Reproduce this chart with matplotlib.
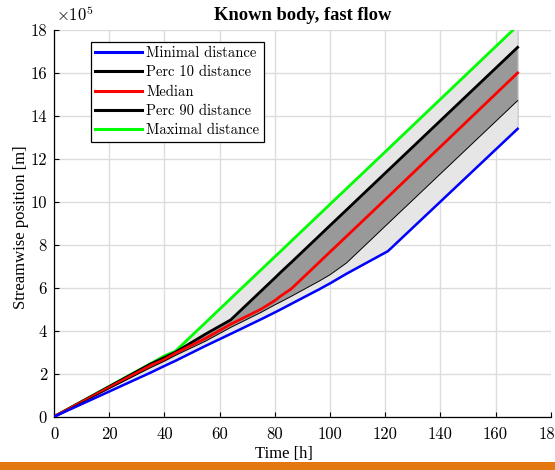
import matplotlib

matplotlib.use("Agg")
import matplotlib.pyplot as plt
from matplotlib.lines import Line2D
from matplotlib.patches import Rectangle
from matplotlib.ticker import FuncFormatter
import numpy as np

plt.rcParams["mathtext.fontset"] = "cm"
plt.rcParams["font.family"] = ["Liberation Serif", "DejaVu Serif"]

# time grid shared by all series [h]
time_h = [0, 35, 40, 44, 55, 64, 75, 80, 82, 86, 96, 100, 106, 121, 168]

# streamwise position [m]
minimal = [0, 2.05e5, 2.36e5, 2.60e5, 3.30e5, 3.85e5, 4.53e5, 4.85e5, 4.98e5,
           5.25e5, 5.92e5, 6.20e5, 6.65e5, 7.70e5, 13.39e5]
perc10 = [0, 2.45e5, 2.75e5, 3.00e5, 3.85e5, 4.50e5, 5.84e5, 6.45e5, 6.70e5,
          7.18e5, 8.40e5, 8.89e5, 9.62e5, 11.45e5, 17.18e5]
median = [0, 2.38e5, 2.66e5, 2.95e5, 3.65e5, 4.30e5, 5.00e5, 5.40e5, 5.60e5,
          5.95e5, 7.17e5, 7.66e5, 8.39e5, 10.22e5, 15.99e5]
perc90 = [0, 2.28e5, 2.58e5, 2.85e5, 3.52e5, 4.15e5, 4.85e5, 5.20e5, 5.33e5,
          5.60e5, 6.30e5, 6.60e5, 7.15e5, 8.98e5, 14.70e5]
maximal = [0, 2.47e5, 2.83e5, 3.05e5, 4.39e5, 5.49e5, 6.83e5, 7.44e5, 7.68e5,
           8.17e5, 9.39e5, 9.88e5, 10.61e5, 12.44e5, 18.19e5]

labels = ["Minimal distance", "Perc 10 distance", "Median",
          "Perc 90 distance", "Maximal distance"]
colors = ["#0000ff", "#000000", "#ff0000", "#000000", "#00ff00"]

fig = plt.figure(figsize=(5.55, 4.70), dpi=100)
ax = fig.add_axes([0.0973, 0.1134, 0.8950, 0.8234])

# shaded envelopes
ax.fill_between(time_h, minimal, maximal, facecolor="#e6e6e6",
                edgecolor="#b0b0c8", linewidth=0.6, zorder=2)
ax.fill_between(time_h, perc90, perc10, facecolor="#999999",
                edgecolor="none", zorder=3)

ax.plot(time_h, maximal, color=colors[4], lw=2.0, zorder=5)
ax.plot(time_h, perc10, color=colors[1], lw=2.0, zorder=5)
ax.plot(time_h, median, color=colors[2], lw=2.0, zorder=5)
ax.plot(time_h, perc90, color=colors[3], lw=0.7, zorder=5)
ax.plot(time_h, minimal, color=colors[0], lw=1.8, zorder=5)

ax.set_xlim(0, 180)
ax.set_ylim(0, 18e5)
ax.set_xticks(np.arange(0, 181, 20))
ax.set_yticks(np.arange(0, 18.1e5, 2e5))
ax.yaxis.set_major_formatter(FuncFormatter(lambda v, p: f"{v / 1e5:g}"))
for lab in ax.get_xticklabels() + ax.get_yticklabels():
    lab.set_fontfamily("cmr10")
ax.text(0.005, 1.012, r"$\times10^{5}$", transform=ax.transAxes,
        fontsize=12, ha="left", va="bottom")

ax.grid(True, color="#dcdcdc", linewidth=1.0, zorder=0)
ax.set_axisbelow(True)
for side in ["top", "right"]:
    ax.spines[side].set_visible(False)
for side in ["left", "bottom"]:
    ax.spines[side].set_linewidth(0.9)
ax.tick_params(axis="both", direction="in", length=3.5, width=0.8,
               labelsize=12)
ax.tick_params(axis="x", pad=7)
ax.tick_params(axis="y", pad=5)

ax.set_xlabel("Time [h]", fontsize=12)
ax.xaxis.set_label_coords(0.462, -0.075)
ax.set_ylabel("Streamwise position [m]", fontsize=12)
ax.yaxis.set_label_coords(-0.05, 0.49)
ax.set_title("Known body, fast flow", fontsize=13.3, fontweight="bold", pad=7)

handles = [Line2D([], [], color=c, lw=2.2) for c in colors]
leg = ax.legend(handles, labels, loc="upper left",
                bbox_to_anchor=(0.0745, 0.968), borderaxespad=0,
                fancybox=False, framealpha=1, edgecolor="black",
                handlelength=3.2, handletextpad=0.3, labelspacing=0.38,
                borderpad=0.3, prop={"family": "cmr10", "size": 10.5})
leg.get_frame().set_linewidth(0.9)
leg.set_zorder(10)

# orange strip along the bottom edge
fig.patches.append(Rectangle((0, 0), 1, 8 / 470, transform=fig.transFigure,
                             facecolor="#e37712", edgecolor="none", zorder=-1))

fig.savefig("out.png", dpi=100)
